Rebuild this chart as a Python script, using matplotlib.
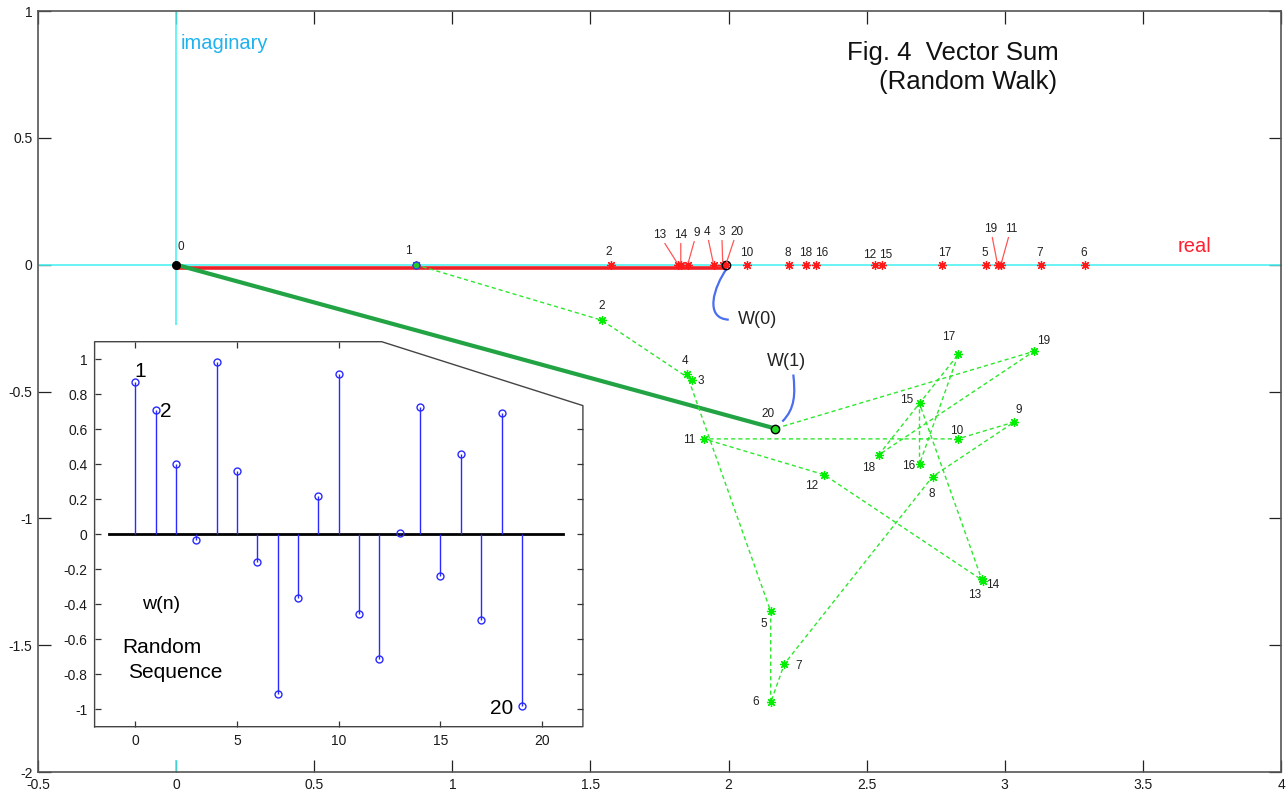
import numpy as np
import matplotlib
matplotlib.use("Agg")
import matplotlib.pyplot as plt
from matplotlib.path import Path
from matplotlib.patches import PathPatch, Polygon
from matplotlib.lines import Line2D
from matplotlib import transforms
from matplotlib.ticker import FuncFormatter

plt.rcParams['font.family'] = ['Liberation Sans', 'DejaVu Sans']

# ---------------- data ----------------
# random sequence w(n), n = 0..19
n_idx = np.arange(20)
w_seq = [0.867, 0.709, 0.403, -0.033, 0.986, 0.359, -0.160, -0.913, -0.366, 0.216,
         0.918, -0.457, -0.711, 0.009, 0.727, -0.239, 0.456, -0.491, 0.694, -0.984]
N_dft = 20
main_xticks = [-0.5, 0, 0.5, 1, 1.5, 2, 2.5, 3, 3.5, 4]
main_yticks = [-2, -1.5, -1, -0.5, 0, 0.5, 1]
inset_xticks = [0, 5, 10, 15, 20]
inset_yticks = [-1, -0.8, -0.6, -0.4, -0.2, 0, 0.2, 0.4, 0.6, 0.8, 1]

w_arr = np.array(w_seq)
# W(0): running sum on the real axis ; W(1): running sum of rotated phasors
sum_k0 = np.cumsum(w_arr)
sum_k1 = np.cumsum(w_arr * np.exp(-2j * np.pi * n_idx / N_dft))

# label offsets (pixels) for the points of the two walks
red_offsets = {0: (5, 18), 1: (-7, 14), 2: (-3, 13), 3: (-1, 33), 4: (-7, 33),
               5: (-1, 12), 6: (-1, 12), 7: (-1, 12), 8: (-1, 12), 9: (9, 32),
               10: (-1, 12), 11: (10, 36), 12: (-5, 10), 13: (-19, 30), 14: (0, 30),
               15: (4, 10), 16: (6, 12), 17: (3, 12), 18: (0, 12), 19: (-7, 36),
               20: (11, 33)}
green_offsets = {2: (0, 14), 3: (9, -1), 4: (-2, 13), 5: (-7, -13), 6: (-15, 0),
                 7: (14, -2), 8: (-1, -17), 9: (4, 12), 10: (-1, 8), 11: (-15, -1),
                 12: (-13, -11), 13: (-8, -14), 14: (11, -6), 15: (-13, 3),
                 16: (-11, -2), 17: (-10, 17), 18: (-10, -13), 19: (10, 10),
                 20: (-7, 15)}

W_PX, H_PX = 1288, 794
fig = plt.figure(figsize=(W_PX / 100, H_PX / 100), dpi=100)
fig.patch.set_facecolor('white')


def fx(px):
    return px / W_PX


def fy(py):
    return (H_PX - py) / H_PX


# ---------------- main complex plane ----------------
ax = fig.add_axes([fx(38), fy(772), fx(1281) - fx(38), fy(11) - fy(772)])
ax.set_xlim(-0.5, 4)
ax.set_ylim(-2, 1)
ax.set_xticks(main_xticks)
ax.set_yticks(main_yticks)
fmt = FuncFormatter(lambda v, p: f"{v:g}")
ax.xaxis.set_major_formatter(fmt)
ax.yaxis.set_major_formatter(fmt)
ax.tick_params(direction='in', length=9, width=0.9, top=True, right=True,
               labelsize=10, labelcolor='#1a1a1a', color='#222222', pad=4)
for s in ax.spines.values():
    s.set_color('#555555')
    s.set_linewidth(1.2)

cyan = '#4ff2f2'
ax.axhline(0, color=cyan, lw=1.2, zorder=2)
ax.axvline(0, color=cyan, lw=1.2, zorder=2)

# W(0) vector along the real axis (drawn just under the axis line)
shift = transforms.ScaledTranslation(0, -3 / 100, fig.dpi_scale_trans)
ax.plot([0, sum_k0[-1]], [0, 0], color='#ee2028', lw=2.6, solid_capstyle='butt',
        transform=ax.transData + shift, zorder=1.5)

# W(1) vector
ax.plot([0, sum_k1[-1].real], [0, sum_k1[-1].imag], color='#22a444', lw=3.0,
        solid_capstyle='butt', zorder=2.5)

# random walk of rotated phasors
ax.plot(sum_k1.real, sum_k1.imag, color='#2de82d', lw=1.0, dashes=(3, 2.2), zorder=3)
ax.plot(sum_k1.real[1:], sum_k1.imag[1:], ls='none', marker=(8, 2, 0), ms=6.5,
        mec='#00ee00', mew=0.9, zorder=4)

# running real sums
ax.plot(sum_k0, np.zeros_like(sum_k0), ls='none', marker=(8, 2, 0), ms=6.5,
        mec='#ff1a1a', mew=0.9, zorder=4)

# special points
ax.plot([0], [0], 'o', ms=5.5, mfc='black', mec='black', zorder=6)
ax.plot([sum_k0[0]], [0], 'o', ms=5, mfc='#22cc22', mec='#2244ee', mew=1.0, zorder=6)
ax.plot([sum_k0[-1]], [0], 'o', ms=6, mfc='none', mec='black', mew=1.0, zorder=6)
ax.plot([sum_k1[-1].real], [sum_k1[-1].imag], 'o', ms=6, mfc='#22dd22', mec='black',
        mew=1.0, zorder=6)

lab_col = '#222222'
lab_fs = 8.5
# labels of the real running sums
ax.annotate('0', xy=(0, 0), xytext=red_offsets[0], textcoords='offset pixels',
            ha='center', va='center', fontsize=lab_fs, color=lab_col, zorder=7)
for k in range(1, 21):
    dx, dy = red_offsets[k]
    arrow = None
    if dy > 25:
        arrow = dict(arrowstyle='-', color='#ff5555', lw=0.9, shrinkA=0, shrinkB=2)
    ax.annotate(str(k), xy=(sum_k0[k - 1], 0), xytext=(dx, dy),
                textcoords='offset pixels', ha='center', va='center', fontsize=lab_fs,
                color=lab_col, arrowprops=arrow, zorder=7)

# labels of the phasor walk
for k in range(2, 21):
    dx, dy = green_offsets[k]
    ax.annotate(str(k), xy=(sum_k1[k - 1].real, sum_k1[k - 1].imag), xytext=(dx, dy),
                textcoords='offset pixels', ha='center', va='center', fontsize=lab_fs,
                color=lab_col, zorder=7)


# curved pointers to W(0) and W(1)
def pointer(x0, y0, verts):
    trans = transforms.Affine2D() + transforms.ScaledTranslation(x0, y0, ax.transData)
    path = Path(verts, [Path.MOVETO, Path.CURVE4, Path.CURVE4, Path.CURVE4])
    ax.add_patch(PathPatch(path, transform=trans, fill=False, ec='#4a6ef0', lw=1.6,
                           zorder=5, clip_on=False))


pointer(sum_k0[-1], 0, [(1, -4), (-12, -22), (-22, -54), (3, -55)])
ax.annotate('W(0)', xy=(sum_k0[-1], 0), xytext=(12, -55), textcoords='offset pixels',
            ha='left', va='center', fontsize=13, color='#222222')
pointer(sum_k1[-1].real, sum_k1[-1].imag, [(7, 7), (20, 20), (20, 35), (18, 54)])
ax.annotate('W(1)', xy=(sum_k1[-1].real, sum_k1[-1].imag), xytext=(-8, 67),
            textcoords='offset pixels', ha='left', va='center', fontsize=13,
            color='#222222')

# axis names and title
ax.text(0.016, 0.87, 'imaginary', color='#1fb2ee', fontsize=14.5, ha='left', va='center')
ax.text(3.627, 0.071, 'real', color='#ff2030', fontsize=14.5, ha='left', va='center')
ax.text(2.428, 0.836, 'Fig. 4  Vector Sum', fontsize=18.5, ha='left', va='center',
        color='#111111')
ax.text(2.544, 0.721, '(Random Walk)', fontsize=18.5, ha='left', va='center',
        color='#111111')

# ---------------- inset: the random sequence ----------------
bg = Polygon([(fx(55), fy(325)), (fx(329.6), fy(325)), (fx(586), fy(407)),
              (fx(586), fy(760)), (fx(55), fy(760))], closed=True,
             transform=fig.transFigure, facecolor='white', edgecolor='none', zorder=1)
fig.patches.append(bg)

ai = fig.add_axes([fx(94.6), fy(726.7), fx(582.9) - fx(94.6), fy(341.7) - fy(726.7)])
ai.set_zorder(3)
ai.patch.set_visible(False)
ai.set_xlim(-2, 22)
ai.set_ylim(-1.1, 1.1)
for s in ai.spines.values():
    s.set_visible(False)
ai.set_xticks(inset_xticks)
ai.set_yticks(inset_yticks)
ai.xaxis.set_major_formatter(fmt)
ai.yaxis.set_major_formatter(fmt)
ai.tick_params(direction='in', length=4, width=0.9, labelsize=10, labelcolor='#1a1a1a',
               color='#333333', pad=5)

# frame with the clipped upper-right corner
cx, cy = 0.588, 0.834
ai.add_line(Line2D([0, 1, 1, cx, 0, 0], [0, 0, cy, 1, 1, 0], transform=ai.transAxes,
                   color='#444444', lw=1.0, clip_on=False))
x_corner = -2 + cx * 24
y_corner = -1.1 + cy * 2.2
top_t = [t for t in inset_xticks if t <= x_corner]
ai.plot(top_t, [1.1] * len(top_t), ls='none', marker=3, ms=4, mew=0.9, color='#333333',
        clip_on=False)
right_t = [t for t in inset_yticks if t <= y_corner]
ai.plot([22] * len(right_t), right_t, ls='none', marker=0, ms=4, mew=0.9, color='#333333',
        clip_on=False)

ai.plot([-1.3, 21], [0, 0], color='black', lw=2.0, zorder=2)
ai.vlines(n_idx, 0, w_arr, color='#2a2aff', lw=1.0, zorder=3)
ai.plot(n_idx, w_arr, 'o', ms=5, mfc='none', mec='#2a2aff', mew=1.0, zorder=4)

ai.annotate('1', xy=(0, w_seq[0]), xytext=(5, 11), textcoords='offset pixels',
            ha='center', va='center', fontsize=15)
ai.annotate('2', xy=(1, w_seq[1]), xytext=(10, -1), textcoords='offset pixels',
            ha='center', va='center', fontsize=15)
ai.annotate('20', xy=(19, w_seq[19]), xytext=(-20, -2), textcoords='offset pixels',
            ha='center', va='center', fontsize=15)
ai.text(1.29, -0.40, 'w(n)', fontsize=14, ha='center', va='center')
ai.text(1.29, -0.65, 'Random', fontsize=15, ha='center', va='center')
ai.text(1.97, -0.79, 'Sequence', fontsize=15, ha='center', va='center')

fig.savefig('out.png', dpi=100, facecolor='white')
